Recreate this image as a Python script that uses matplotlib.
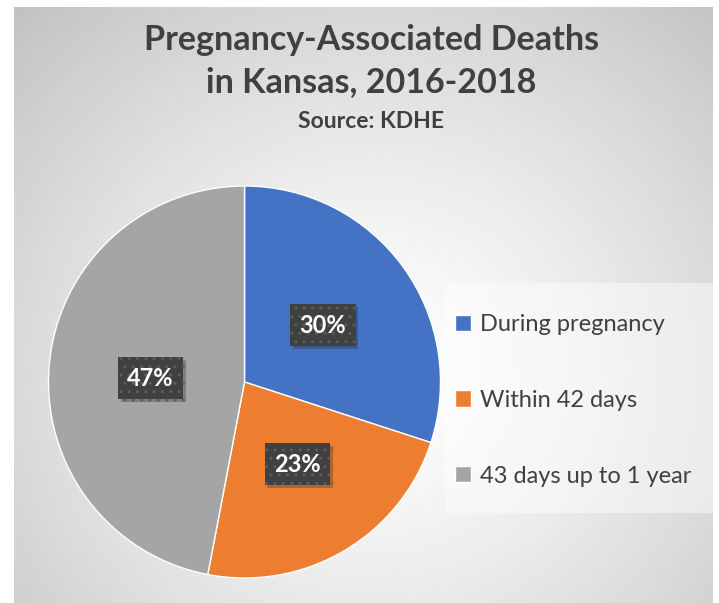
import numpy as np
import matplotlib.pyplot as plt
import matplotlib.patheffects as pe
from matplotlib.patches import Rectangle

categories = ["During pregnancy", "Within 42 days", "43 days up to 1 year"]
shares = [30, 23, 47]
colors = ["#4472C4", "#ED7D31", "#A5A5A5"]
label_pos = [(0.40, 0.29), (0.27, -0.42), (-0.48, 0.02)]

plt.rcParams["font.family"] = ["Lato", "DejaVu Sans"]

W, H = 719, 603
fig = plt.figure(figsize=(W / 100, H / 100), dpi=100)
fig.patch.set_facecolor("white")

# background panel with radial gradient
bg = fig.add_axes([14 / W, 0, (713 - 14) / W, (603 - 7) / H])
bg.set_axis_off()
yy, xx = np.mgrid[0:1:300j, 0:1:350j]
r = np.sqrt(((xx - 0.52) / 0.75) ** 2 + ((yy - 0.62) / 0.85) ** 2)
r = np.clip(r, 0, 1)
shade = 1.0 - 0.24 * r ** 1.3
bg.imshow(shade, cmap="gray", vmin=0, vmax=1, extent=[0, 1, 0, 1],
          aspect="auto", origin="upper")
bg.set_xlim(0, 1)
bg.set_ylim(0, 1)

# pie
cx, cy, rad = 244.5, 382, 196
ax = fig.add_axes([(cx - rad) / W, (H - cy - rad) / H, 2 * rad / W, 2 * rad / H])
ax.set_axis_off()
wedges, _, autotexts = ax.pie(shares, colors=colors, startangle=90,
                              counterclock=False, radius=1,
                              autopct="%d%%", pctdistance=0.5,
                              wedgeprops=dict(edgecolor="white", linewidth=1))
ax.set_xlim(-1, 1)
ax.set_ylim(-1, 1)

for t, (px, py) in zip(autotexts, label_pos):
    t.set_position((px, py))
    t.set_color("white")
    t.set_fontsize(17)
    t.set_fontweight("bold")
    t.set_bbox(dict(boxstyle="square,pad=0.4", facecolor="#404040",
                    edgecolor="#5c5c5c", linewidth=0, hatch=".."))
    t.get_bbox_patch().set_path_effects([
        pe.SimplePatchShadow(offset=(2, -2), alpha=0.25), pe.Normal()])
    t.set_zorder(5)

# legend box
fig.patches.append(Rectangle((445 / W, 1 - 513 / H), (713 - 445) / W,
                             (513 - 283) / H, transform=fig.transFigure,
                             facecolor="white", alpha=0.45, linewidth=0,
                             zorder=1))
leg = fig.legend(wedges, categories, loc="upper left",
                 bbox_to_anchor=(455 / W, 1 - 314 / H),
                 fontsize=17, labelspacing=2.32, handlelength=0.68,
                 handleheight=0.68, handletextpad=0.4, borderpad=0,
                 borderaxespad=0, frameon=False)
for txt in leg.get_texts():
    txt.set_color("#404040")

# titles
fig.text(0.5 + 12 / W, 1 - 40 / H, "Pregnancy-Associated Deaths", ha="center",
         va="center", fontsize=24.5, fontweight="bold", color="#404040")
fig.text(0.5 + 12 / W, 1 - 82 / H, "in Kansas, 2016-2018", ha="center",
         va="center", fontsize=24.5, fontweight="bold", color="#404040")
fig.text(0.5 + 12 / W, 1 - 122 / H, "Source: KDHE", ha="center",
         va="center", fontsize=16.5, fontweight="bold", color="#404040")

fig.savefig("out.png", dpi=100)
